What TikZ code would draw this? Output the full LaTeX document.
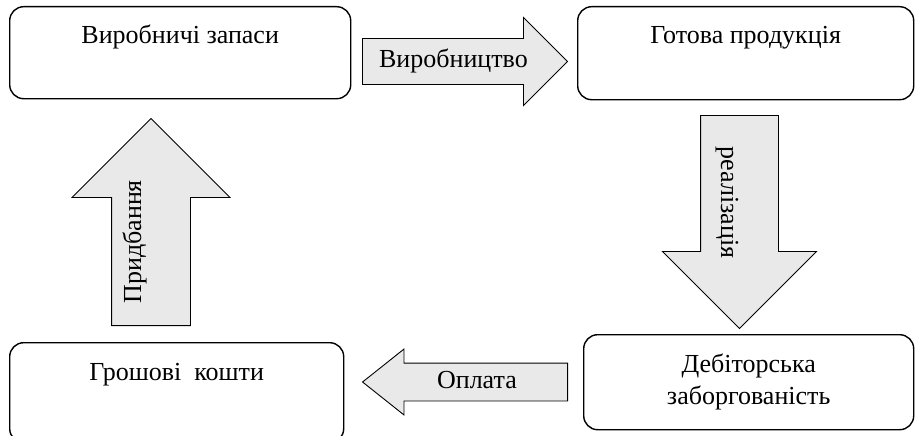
\documentclass[tikz,border=0pt]{standalone}
\usepackage{fontspec}
\setmainfont{Liberation Serif}
\usetikzlibrary{shapes.arrows}
\tikzstyle{stock}=[draw,line width=1.4pt,rounded corners=14pt,inner sep=0pt,anchor=north west]
\tikzstyle{flow}=[single arrow,draw,line width=.9pt,fill=gray!17,inner xsep=0pt,anchor=tail,single arrow tip angle=90]

\begin{document}
\begin{tikzpicture}[x=1pt,y=-1pt,font=\fontsize{26}{31}\selectfont]
	\useasboundingbox (0,0) rectangle (915,436);
	\node[stock,minimum width=341pt,text height=37pt,text depth=55pt] (zap)   at (9,6)     {Виробничі запаси};
	\node[stock,minimum width=336pt,text height=37pt,text depth=56pt] (prod)  at (577,6)   {Готова продукція};
	\node[stock,minimum width=334pt,text height=38pt,text depth=62pt] (grosh) at (9,342)   {Грошові\ \ кошти};
	\node[stock,minimum width=330pt,minimum height=95pt,align=center,
	      font=\fontsize{26}{32}\selectfont]                           (deb)   at (583,334) {Дебіторська\\заборгованість};
	\node[flow,minimum height=205pt,text height=18pt,text depth=6pt,inner ysep=10.5pt,
	      single arrow head extend=21pt]                                (vyr)  at (362,61.5) {Виробництво};
	\node[flow,rotate=-90,minimum height=213pt,text height=45pt,text depth=8pt,inner ysep=12pt,
	      single arrow head extend=38pt]                                (real) at (739.5,115) {реалізація};
	\node[flow,shape border rotate=180,minimum height=205pt,text height=18pt,text depth=6pt,inner ysep=6.5pt,
	      single arrow head extend=14pt,single arrow tip angle=77]      (opl)  at (568,382)  {Оплата};
	\node[flow,rotate=90,minimum height=207pt,text height=18pt,text depth=38pt,inner ysep=11pt,
	      single arrow head extend=39.5pt]                              (prid) at (151,326)  {Придбання};
\end{tikzpicture}
\end{document}
